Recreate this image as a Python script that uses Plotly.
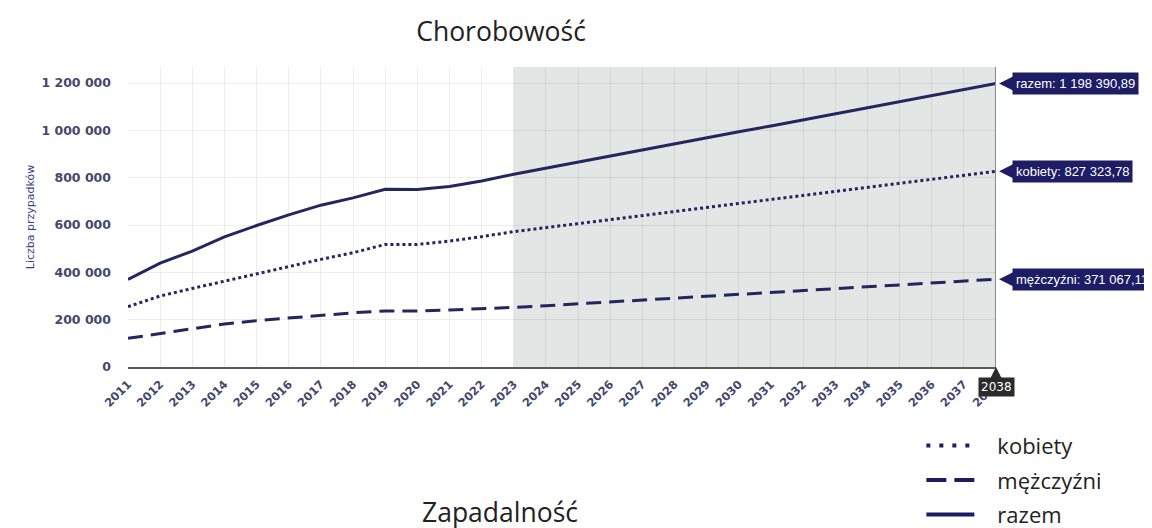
import plotly.graph_objects as go

years = list(range(2011, 2039))
kobiety = [255000, 300000, 332000, 363000, 396000, 427000, 455000, 483000, 518000, 518000,
           532000, 551000, 572000, 589000, 606000, 623000, 640000, 657000, 674000, 691000,
           708000, 725000, 742000, 759000, 776000, 793000, 810000, 827323.78]
mezczyzni = [121000, 142000, 163000, 182000, 196000, 208000, 220000, 229000, 237000, 237000,
             241000, 245000, 252000, 259000, 267000, 275000, 283000, 291000, 299000, 307000,
             315000, 323000, 331000, 339000, 347000, 355000, 363000, 371067.11]
razem = [370000, 439000, 490000, 550000, 598000, 643000, 684000, 715000, 751000, 750000,
         763000, 786000, 815000, 841000, 866000, 892000, 917000, 943000, 968000, 994000,
         1019000, 1045000, 1070000, 1096000, 1121000, 1147000, 1172000, 1198390.89]
forecast_start = 2023

NAVY = "#24265f"
TICK = "#45476b"
GRID = "rgba(0,0,0,0.065)"


def pl_num(v):
    # 1198390.89 -> "1 198 390,89"
    s = f"{v:,.2f}"
    return s.replace(",", " ").replace(".", ",")


series = [("kobiety", kobiety, "dot", "4px,9px,4px,9px,4px,9px,4px,60px"),
          ("mężczyźni", mezczyzni, "15px,8px", "20px,8px,20px,60px"),
          ("razem", razem, "solid", "48px,60px")]

fig = go.Figure()
for name, vals, dash, _ in series:
    fig.add_trace(go.Scatter(x=years, y=vals, name=name, mode="lines", showlegend=False,
                             line=dict(color=NAVY, width=3, dash=dash)))
# legenda (osobne wpisy - inny wzor kresek niz na wykresie)
for i, (name, _, _, ldash) in enumerate(series):
    fig.add_trace(go.Scatter(x=[None], y=[None], name=name, mode="lines", legendgroup=str(i),
                             line=dict(color="#1c1d64", width=4, dash=ldash)))

# prognoza - szare tlo
fig.add_shape(type="rect", xref="x", yref="paper", x0=forecast_start, x1=years[-1],
              y0=0, y1=1, fillcolor="#e2e6e4", line_width=0, layer="below")
# pionowa linia kursora
fig.add_shape(type="line", xref="x", yref="paper", x0=years[-1], x1=years[-1],
              y0=0, y1=1, line=dict(color="#8a8a8a", width=2))

for name, vals in [("razem", razem), ("kobiety", kobiety), ("mężczyźni", mezczyzni)]:
    fig.add_annotation(x=years[-1], y=vals[-1], text=f"{name}: {pl_num(vals[-1])}",
                       showarrow=True, ax=16, ay=0, xanchor="left", arrowhead=2,
                       arrowsize=1.4, arrowwidth=2, arrowcolor="#1c1d64", standoff=3,
                       bgcolor="#1c1d64", borderpad=3,
                       font=dict(family="Liberation Sans, Arial", size=13, color="white"))

fig.add_annotation(x=years[-1], y=0, yref="y", text=str(years[-1]),
                   showarrow=True, ax=0, ay=10, yanchor="top", arrowhead=2,
                   arrowsize=1.2, arrowwidth=2, arrowcolor="#2b2b2b", standoff=0,
                   bgcolor="#2b2b2b", borderpad=2,
                   font=dict(family="DejaVu Sans", size=12, color="white"))

fig.add_annotation(text="Zapadalność", xref="paper", yref="paper", x=0.4286, y=-0.485,
                   showarrow=False, xanchor="center", yanchor="middle",
                   font=dict(family="Open Sans", size=26.5, color="#222222"))

fig.update_layout(
    width=1152, height=528,
    margin=dict(l=120, r=164, t=59, b=169, autoexpand=False),
    paper_bgcolor="white", plot_bgcolor="white",
    separators=", ",
    title=dict(text="Chorobowość", x=0.428, xanchor="center", y=0.9545, yanchor="middle",
               font=dict(family="Open Sans", size=26.5, color="#222222")),
    showlegend=True,
    legend=dict(x=0.914, y=-0.562, xanchor="left", yanchor="bottom",
                font=dict(family="Open Sans", size=22, color="#222222"),
                itemwidth=66, tracegroupgap=3,
                bgcolor="rgba(0,0,0,0)"),
    hovermode=False,
)
fig.update_xaxes(range=[years[0], years[-1]], tickmode="array", tickvals=years,
                 ticktext=[str(y) for y in years], tickangle=-45, ticklabelstandoff=4,
                 tickfont=dict(family="DejaVu Sans", size=11.5, color=TICK, weight="bold"),
                 showgrid=True, gridcolor=GRID, gridwidth=1,
                 showline=True, linecolor="#5a5a5a", linewidth=2, zeroline=False)
fig.update_yaxes(range=[0, 1268000], tickvals=[0, 200000, 400000, 600000, 800000, 1000000, 1200000],
                 tickformat=",d", ticklabelstandoff=16,
                 tickfont=dict(family="DejaVu Sans", size=12.5, color=TICK, weight="bold"),
                 title=dict(text="Liczba przypadków", standoff=4,
                            font=dict(family="DejaVu Sans", size=11, color="#3a3c86")),
                 showgrid=True, gridcolor=GRID, gridwidth=1, zeroline=False)

fig.write_html("out.html")
